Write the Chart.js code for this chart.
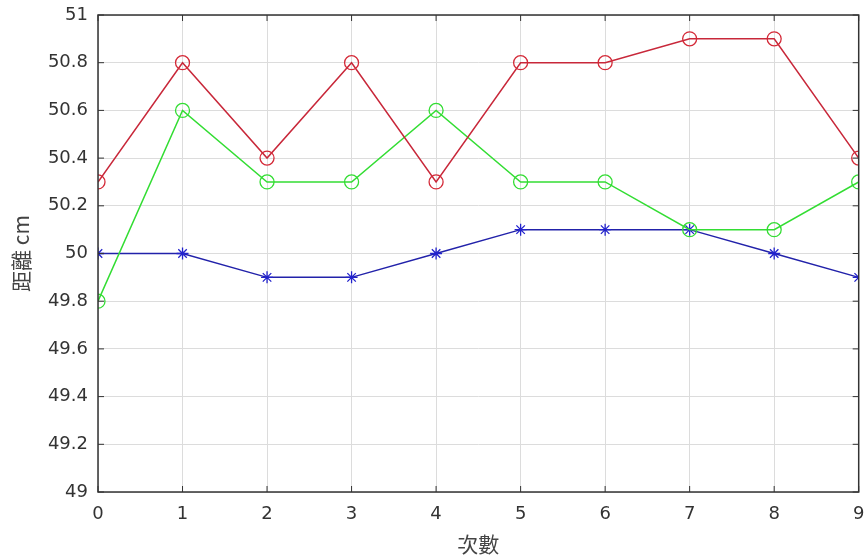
<!DOCTYPE html>
<html>
<head>
<meta charset="utf-8">
<script src="https://cdn.jsdelivr.net/npm/chart.js@4"></script>
<style>
    html, body { margin: 0; padding: 0; background: #fff; }
    #box { width: 867px; height: 557px; }
</style>
</head>
<body>
<div id="box"><canvas id="grafico"></canvas></div>
<script>
const vezes = [0, 1, 2, 3, 4, 5, 6, 7, 8, 9];
const serieVermelha = [50.3, 50.8, 50.4, 50.8, 50.3, 50.8, 50.8, 50.9, 50.9, 50.4];
const serieVerde = [49.8, 50.6, 50.3, 50.3, 50.6, 50.3, 50.3, 50.1, 50.1, 50.3];
const serieAzul = [50.0, 50.0, 49.9, 49.9, 50.0, 50.1, 50.1, 50.1, 50.0, 49.9];

const fonteNum = { family: "'DejaVu Sans', sans-serif", size: 18 };
const fonteCJK = { family: "'Noto Sans CJK TC', sans-serif", size: 21 };

function pontos(valores) {
    return valores.map((v, i) => ({ x: vezes[i], y: v }));
}

// moldura e marcas para dentro, como no original
const moldura = {
    id: "moldura",
    afterDatasetsDraw(chart) {
        const { ctx, chartArea: a, scales } = chart;
        ctx.save();
        ctx.strokeStyle = "#333";
        ctx.lineWidth = 1.5;
        ctx.strokeRect(a.left, a.top, a.right - a.left, a.bottom - a.top);
        ctx.lineWidth = 1;
        scales.x.ticks.forEach(t => {
            const x = scales.x.getPixelForValue(t.value);
            ctx.beginPath();
            ctx.moveTo(x, a.bottom); ctx.lineTo(x, a.bottom - 6);
            ctx.moveTo(x, a.top); ctx.lineTo(x, a.top + 6);
            ctx.stroke();
        });
        scales.y.ticks.forEach(t => {
            const y = scales.y.getPixelForValue(t.value);
            ctx.beginPath();
            ctx.moveTo(a.left, y); ctx.lineTo(a.left + 6, y);
            ctx.moveTo(a.right, y); ctx.lineTo(a.right - 6, y);
            ctx.stroke();
        });
        ctx.restore();
    }
};

new Chart(document.getElementById("grafico"), {
    type: "line",
    data: {
        datasets: [
            {
                data: pontos(serieVermelha),
                borderColor: "#c8283a",
                backgroundColor: "transparent",
                borderWidth: 1.5,
                pointStyle: "circle",
                pointRadius: 7,
                pointBorderWidth: 1.3,
                pointBorderColor: "#d42a38"
            },
            {
                data: pontos(serieVerde),
                borderColor: "#33dd33",
                backgroundColor: "transparent",
                borderWidth: 1.5,
                pointStyle: "circle",
                pointRadius: 7,
                pointBorderWidth: 1.3,
                pointBorderColor: "#33dd33"
            },
            {
                data: pontos(serieAzul),
                borderColor: "#2222aa",
                backgroundColor: "transparent",
                borderWidth: 1.5,
                pointStyle: "star",
                pointRadius: 6,
                pointBorderWidth: 1.3,
                pointBorderColor: "#2222cc"
            }
        ]
    },
    plugins: [moldura],
    options: {
        responsive: true,
        maintainAspectRatio: false,
        animation: false,
        layout: { padding: { top: 15, right: 7, left: 0, bottom: 0 } },
        plugins: {
            legend: { display: false },
            tooltip: { enabled: false }
        },
        scales: {
            x: {
                type: "linear",
                min: 0,
                max: 9,
                afterFit: s => { s.height = 65; s.paddingRight = 0; s.paddingLeft = 0; },
                grid: { color: "#dcdcdc", drawTicks: false },
                border: { display: false },
                ticks: {
                    stepSize: 1,
                    padding: 12,
                    color: "#333",
                    font: fonteNum
                },
                title: {
                    display: true,
                    text: "次數",
                    color: "#444",
                    font: fonteCJK,
                    padding: { top: 2, bottom: 0 }
                }
            },
            y: {
                min: 49,
                max: 51,
                afterFit: s => { s.width = 98; s.paddingTop = 0; s.paddingBottom = 0; },
                grid: { color: "#dcdcdc", drawTicks: false },
                border: { display: false },
                ticks: {
                    stepSize: 0.2,
                    padding: 10,
                    color: "#333",
                    font: fonteNum,
                    callback: v => Math.round(v * 10) / 10
                },
                title: {
                    display: true,
                    text: "距離 cm",
                    color: "#444",
                    font: fonteCJK,
                    padding: { top: 8, bottom: 0 }
                }
            }
        }
    }
});
</script>
</body>
</html>
